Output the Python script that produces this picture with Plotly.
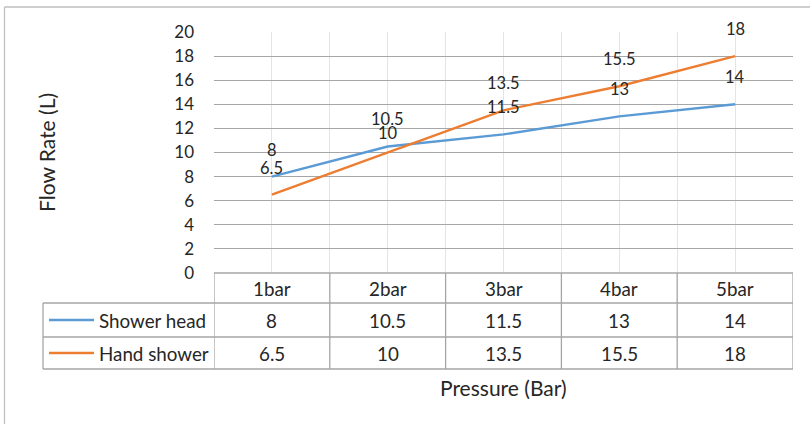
import plotly.graph_objects as go

categories = ["1bar", "2bar", "3bar", "4bar", "5bar"]
series_names = ["Shower head", "Hand shower"]
shower_head = [8, 10.5, 11.5, 13, 14]
hand_shower = [6.5, 10, 13.5, 15.5, 18]
y_ticks = [0, 2, 4, 6, 8, 10, 12, 14, 16, 18, 20]
colors = ["#5B9BD5", "#ED7D31"]

FONT = "Lato"
FS_TICK = 17
FS_LBL = 16.5
FS_TBL = 18.8
FS_TITLE = 21
TXT = "#262626"
W, H = 810, 424
# plot area in pixels
L, R, T, B = 214, 793, 32, 273
LABEL_SHIFT = 27
# label nudges as placed in the original (series index, point index) -> shift px
LABEL_NUDGE = {(1, 1): 19.5}


def px(x):
    return (x - L) / (R - L)


def py(y):
    return (B - y) / (B - T)


xs = list(range(len(categories)))
fig = go.Figure()
all_series = [shower_head, hand_shower]
for name, vals, col in zip(series_names, all_series, colors):
    fig.add_trace(go.Scatter(x=xs, y=vals, mode="lines", name=name,
                             line=dict(color=col, width=2.4), showlegend=False,
                             hoverinfo="skip"))

annotations = []
# data labels
for s, vals in enumerate(all_series):
    for x, v in zip(xs, vals):
        annotations.append(dict(x=x, y=v, xref="x", yref="y", text=f"{v:g}",
                                showarrow=False, yshift=LABEL_NUDGE.get((s, x), LABEL_SHIFT),
                                yanchor="middle",
                                font=dict(family=FONT, size=FS_LBL, color=TXT)))

shapes = []
grid_col = "#A6A6A6"
tbl_col = "#A6A6A6"
row_y = [273, 303, 337, 369]
# header row cells
for i, c in enumerate(categories):
    annotations.append(dict(x=i, y=py((row_y[0] + row_y[1]) / 2), xref="x", yref="paper",
                            text=c, showarrow=False, yanchor="middle",
                            font=dict(family=FONT, size=FS_TBL, color=TXT)))
# data rows
for r, (name, vals, col) in enumerate(zip(series_names, all_series, colors)):
    yc = py((row_y[r + 1] + row_y[r + 2]) / 2)
    for i, v in enumerate(vals):
        annotations.append(dict(x=i, y=yc, xref="x", yref="paper", text=f"{v:g}",
                                showarrow=False, yanchor="middle",
                                font=dict(family=FONT, size=FS_TBL, color=TXT)))
    annotations.append(dict(x=px(97), y=yc, xref="paper", yref="paper", text=name,
                            showarrow=False, xanchor="left", yanchor="middle",
                            font=dict(family=FONT, size=FS_TBL, color=TXT)))
    shapes.append(dict(type="line", xref="paper", yref="paper", x0=px(49), x1=px(94),
                       y0=yc, y1=yc, line=dict(color=col, width=2.4)))

# table horizontal lines
shapes.append(dict(type="line", xref="paper", yref="paper", x0=0, x1=1,
                   y0=py(row_y[0]), y1=py(row_y[0]), line=dict(color=tbl_col, width=1.3)))
for yy in row_y[1:]:
    shapes.append(dict(type="line", xref="paper", yref="paper", x0=px(43), x1=1,
                       y0=py(yy), y1=py(yy), line=dict(color=tbl_col, width=1.3)))
# table vertical lines
for k in range(len(categories) + 1):
    xv = k - 0.5
    shapes.append(dict(type="line", xref="x", yref="paper", x0=xv, x1=xv,
                       y0=py(row_y[0]), y1=py(row_y[-1]), line=dict(color=tbl_col, width=1.3)))
shapes.append(dict(type="line", xref="paper", yref="paper", x0=px(43), x1=px(43),
                   y0=py(row_y[1]), y1=py(row_y[-1]), line=dict(color=tbl_col, width=1.3)))

# outer chart border (extends past the image)
shapes.append(dict(type="line", xref="paper", yref="paper", x0=px(4.5), x1=px(4.5),
                   y0=py(7), y1=py(440), line=dict(color="#BFBFBF", width=1.3)))
shapes.append(dict(type="line", xref="paper", yref="paper", x0=px(4.5), x1=px(830),
                   y0=py(7), y1=py(7), line=dict(color="#BFBFBF", width=1.3)))

# axis titles
annotations.append(dict(x=px(46), y=py(153), xref="paper", yref="paper", text="Flow Rate (L)",
                        textangle=-90, showarrow=False, xanchor="center", yanchor="middle",
                        font=dict(family=FONT, size=FS_TITLE, color=TXT)))
annotations.append(dict(x=px(503), y=py(387), xref="paper", yref="paper", text="Pressure (Bar)",
                        showarrow=False, xanchor="center", yanchor="middle",
                        font=dict(family=FONT, size=FS_TITLE, color=TXT)))

fig.update_layout(
    width=W, height=H,
    margin=dict(l=L, r=W - R, t=T, b=H - B, pad=0),
    paper_bgcolor="white", plot_bgcolor="white",
    annotations=annotations, shapes=shapes,
    xaxis=dict(range=[-0.5, len(categories) - 0.5], tickmode="linear", tick0=-0.5, dtick=0.5,
               showticklabels=False, showgrid=True, gridcolor="#E4E4E4", gridwidth=1,
               zeroline=False, showline=False, ticks=""),
    yaxis=dict(range=[0, 20], tickmode="array", tickvals=y_ticks,
               ticktext=[str(t) for t in y_ticks], showgrid=True, gridcolor=grid_col,
               gridwidth=1.3, zeroline=False, showline=False, ticks="",
               ticklabelstandoff=19, tickfont=dict(family=FONT, size=FS_TICK, color=TXT)),
)

fig.write_html("out.html", config={"displayModeBar": False},
               post_script="document.body.style.margin='0';"
               "document.body.style.overflow='hidden';")
